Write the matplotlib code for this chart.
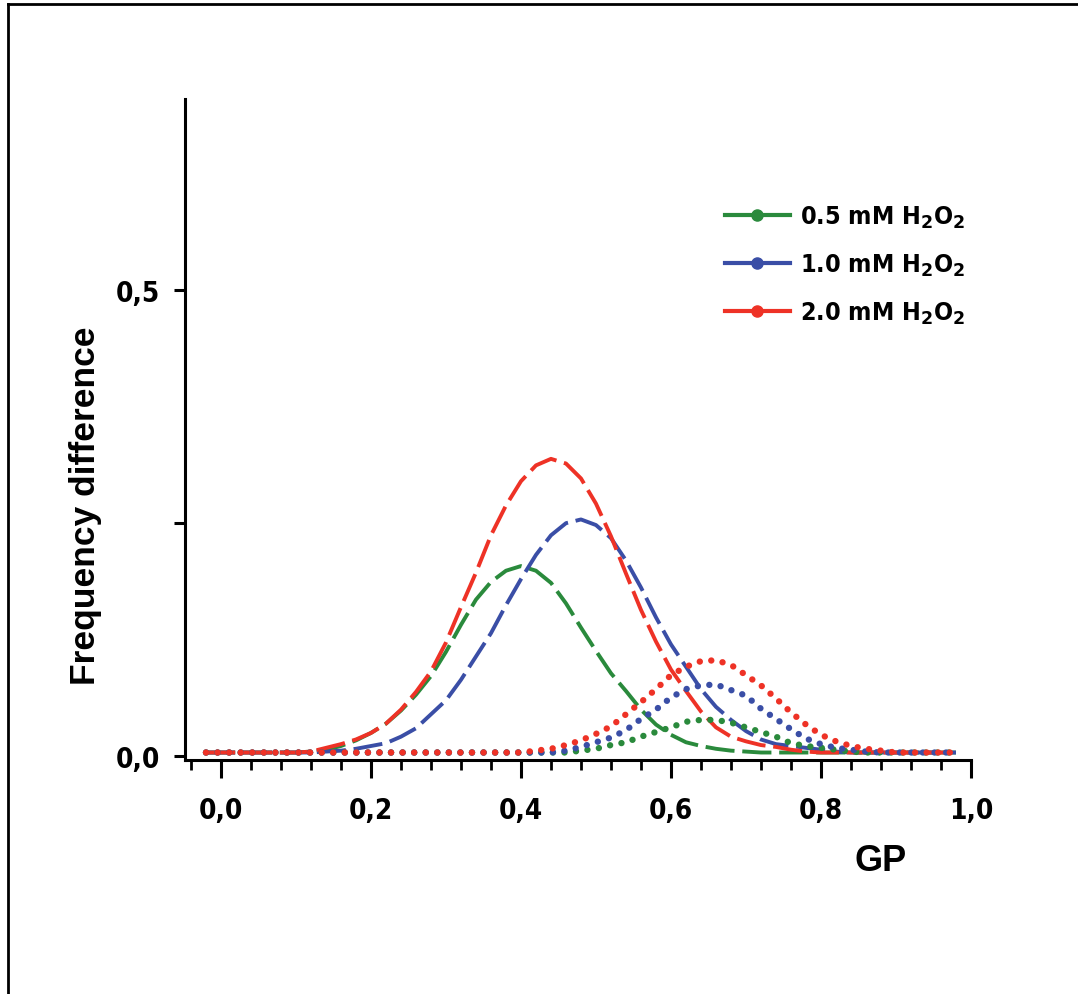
import numpy as np
import matplotlib
matplotlib.use('Agg')
import matplotlib.pyplot as plt
from matplotlib.lines import Line2D
from matplotlib.ticker import FixedLocator, MultipleLocator
from matplotlib import font_manager

### Data (GP bins, step 0.02)
gp = np.round(np.arange(-0.02, 0.981, 0.02), 2)

# dashed curves
green_dash = [0.004]*7 + [0.005, 0.007, 0.011, 0.017, 0.025, 0.035, 0.049, 0.066, 0.086,
              0.112, 0.141, 0.168, 0.187, 0.199, 0.204, 0.199, 0.186, 0.164, 0.138,
              0.113, 0.089, 0.070, 0.050, 0.034, 0.023, 0.015, 0.011, 0.008, 0.006,
              0.005] + [0.004]*14
red_dash = [0.004]*7 + [0.005, 0.009, 0.013, 0.018, 0.025, 0.035, 0.050, 0.069, 0.091,
            0.122, 0.160, 0.197, 0.237, 0.269, 0.295, 0.312, 0.319, 0.314, 0.298,
            0.271, 0.236, 0.196, 0.157, 0.123, 0.093, 0.070, 0.048, 0.031, 0.021,
            0.016, 0.012, 0.010, 0.007, 0.005] + [0.004]*10
blue_dash = [0.004]*8 + [0.005, 0.006, 0.008, 0.011, 0.014, 0.021, 0.030, 0.045, 0.060,
             0.082, 0.107, 0.132, 0.162, 0.190, 0.216, 0.237, 0.250, 0.254, 0.248,
             0.234, 0.210, 0.181, 0.149, 0.120, 0.096, 0.072, 0.053, 0.039, 0.027,
             0.018, 0.013, 0.011, 0.009, 0.007, 0.005] + [0.004]*8

# dotted curves
red_dot = [0.004]*22 + [0.006, 0.008, 0.012, 0.017, 0.024, 0.032, 0.045, 0.058, 0.072,
           0.087, 0.096, 0.102, 0.103, 0.098, 0.087, 0.076, 0.062, 0.047, 0.034,
           0.023, 0.016, 0.011, 0.008, 0.006] + [0.004]*5
blue_dot = [0.004]*24 + [0.006, 0.010, 0.015, 0.020, 0.028, 0.040, 0.050, 0.063, 0.072,
            0.076, 0.077, 0.071, 0.065, 0.051, 0.040, 0.029, 0.019, 0.013, 0.009,
            0.007, 0.005] + [0.004]*6
green_dot = [0.004]*25 + [0.006, 0.008, 0.012, 0.015, 0.021, 0.026, 0.031, 0.037, 0.039,
             0.039, 0.036, 0.031, 0.026, 0.021, 0.014, 0.011, 0.009, 0.007, 0.005] + [0.004]*7

labels = [r'0.5 mM H$_\mathbf{2}$O$_\mathbf{2}$', r'1.0 mM H$_\mathbf{2}$O$_\mathbf{2}$',
          r'2.0 mM H$_\mathbf{2}$O$_\mathbf{2}$']
xticks = [0.0, 0.2, 0.4, 0.6, 0.8, 1.0]
xticklabels = ['0,0', '0,2', '0,4', '0,6', '0,8', '1,0']
yticks = [0.0, 0.5]
yticklabels = ['0,0', '0,5']

def main():
    c_green, c_blue, c_red = '#2a8a3c', '#3a4ea6', '#ee3226'
    names = set(f.name for f in font_manager.fontManager.ttflist)
    if 'Liberation Sans Narrow' in names:
        tfont = dict(family='Liberation Sans Narrow', weight='bold')
    else:
        tfont = dict(family='DejaVu Sans', weight='bold', stretch='condensed')
    plt.rcParams['mathtext.fontset'] = 'custom'
    plt.rcParams['mathtext.rm'] = tfont['family'] + ':bold'
    plt.rcParams['mathtext.bf'] = tfont['family'] + ':bold'

    fig = plt.figure(figsize=(10.78, 9.95), dpi=100)
    ax = fig.add_axes([0.1716, 0.2352, 0.7291, 0.6643])

    dash = (0, (7.5, 2.0))
    dot = (0, (0.01, 1.8))
    for y, c in zip([green_dash, blue_dash, red_dash], [c_green, c_blue, c_red]):
        ax.plot(gp, y, color=c, lw=2.8, linestyle=dash, dash_capstyle='butt')
    for y, c in zip([green_dot, blue_dot, red_dot], [c_green, c_blue, c_red]):
        ax.plot(gp, y, color=c, lw=4.6, linestyle=dot, dash_capstyle='round')

    ax.set_xlim(-0.048, 1.0)
    ax.set_ylim(-0.004, 0.705)

    for s in ['top', 'right']:
        ax.spines[s].set_visible(False)
    for s in ['left', 'bottom']:
        ax.spines[s].set_linewidth(2.2)

    ax.xaxis.set_major_locator(FixedLocator(xticks))
    ax.xaxis.set_minor_locator(MultipleLocator(0.04))
    ax.set_xticklabels(xticklabels)
    ax.yaxis.set_major_locator(FixedLocator(yticks))
    ax.yaxis.set_minor_locator(FixedLocator([0.25]))
    ax.set_yticklabels(yticklabels)
    ax.tick_params(axis='x', which='major', direction='out', length=13, width=2.2, pad=13)
    ax.tick_params(axis='x', which='minor', direction='out', length=7, width=2.0)
    ax.tick_params(axis='y', which='both', direction='out', length=8, width=2.2, pad=10)
    for t in ax.get_xticklabels() + ax.get_yticklabels():
        t.set_fontproperties(font_manager.FontProperties(size=20, **tfont))

    ## Legend
    handles = [Line2D([], [], color=c, lw=3, marker='o', markersize=8)
               for c in [c_green, c_blue, c_red]]
    ax.legend(handles, labels, loc='upper left', bbox_to_anchor=(0.658, 0.875),
              frameon=False, handlelength=2.6, handletextpad=0.4,
              labelspacing=0.86, prop=font_manager.FontProperties(size=18, **tfont))

    ## Axis labels
    fig.text(0.817, 0.134, 'GP', fontsize=26, fontweight='bold', family='Liberation Sans',
             ha='center', va='center')
    fig.text(0.079, 0.492, 'Frequency difference', fontsize=25.5, fontweight='bold',
             family='Liberation Sans', rotation=90, ha='center', va='center')

    ## Outer frame
    fig.add_artist(Line2D([0.007, 1.0], [0.995, 0.995], color='black', lw=2.0,
                          transform=fig.transFigure))
    fig.add_artist(Line2D([0.0075, 0.0075], [0.0, 0.995], color='black', lw=2.0,
                          transform=fig.transFigure))

    plt.savefig('out.png', dpi=100)
    return

if __name__ == '__main__':
    main()
